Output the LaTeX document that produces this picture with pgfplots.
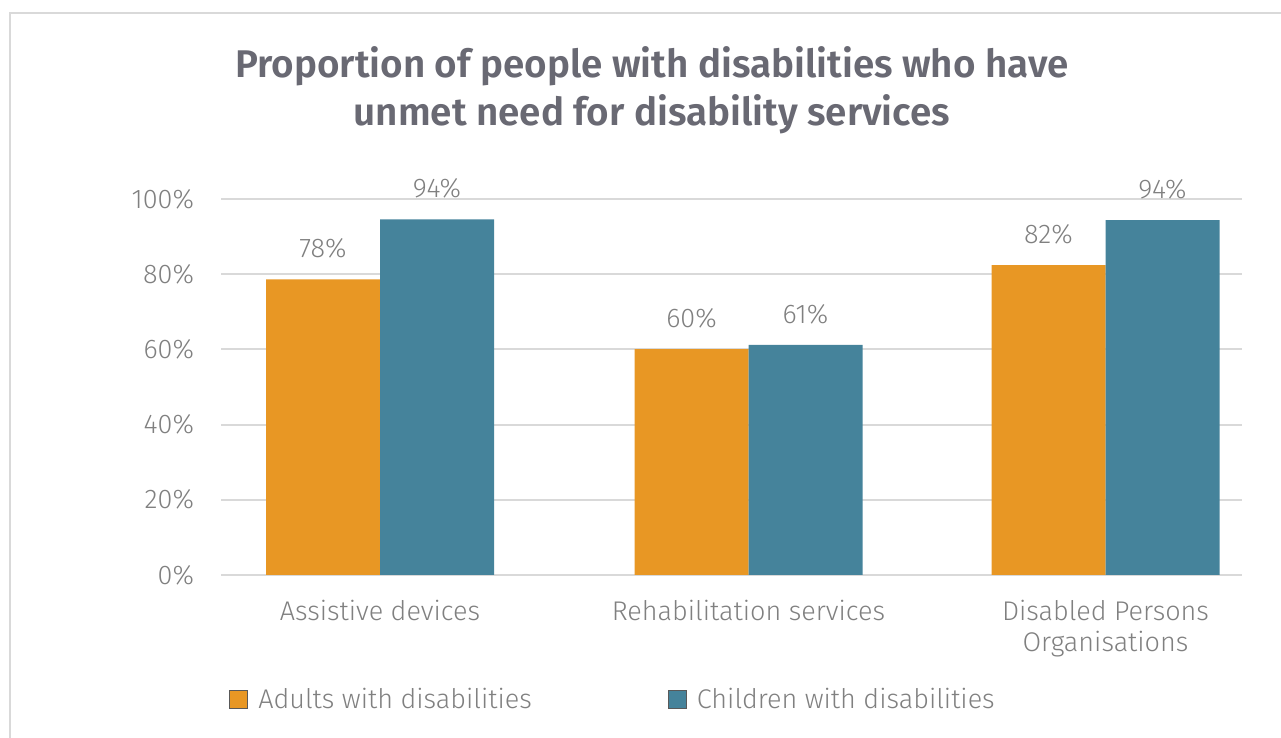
\documentclass[border=0pt]{standalone}
\usepackage{fontspec}
\setmainfont{Fira Sans Light}
\newfontfamily\titlefont{Fira Sans SemiBold}
\usepackage{pgfplots}
\pgfplotsset{compat=1.18}
\definecolor{orangebar}{RGB}{232,151,36}
\definecolor{tealbar}{RGB}{69,131,155}
\definecolor{gridc}{RGB}{217,217,217}
\definecolor{txt}{RGB}{128,128,128}
\definecolor{titlec}{RGB}{105,105,115}
\begin{document}
\begin{tikzpicture}
\useasboundingbox (0pt,0pt) rectangle (640.5pt,369pt);
\draw[gridc, line width=1pt] (5pt,0pt) -- (5pt,362.5pt) -- (640.5pt,362.5pt);
\node[anchor=base, font=\titlefont\fontsize{19.3}{23}\selectfont, text=titlec, inner sep=0pt] at (326pt,330pt) {Proportion of people with disabilities who have};
\node[anchor=base, font=\titlefont\fontsize{19.3}{23}\selectfont, text=titlec, inner sep=0pt] at (326pt,306pt) {unmet need for disability services};
\begin{axis}[
  at={(110.5pt,81.5pt)}, anchor=south west,
  width=510.5pt, height=188pt, scale only axis,
  xmin=221, xmax=1242, ymin=0, ymax=100,
  ybar=0pt, bar width=57pt,
  axis line style={draw=none},
  tick style={draw=none},
  ymajorgrids, major grid style={gridc, line width=1pt},
  ytick={0,20,...,100},
  yticklabel={\pgfmathprintnumber{\tick}\%},
  xtick={380,748.5,1105.5},
  xticklabels={Assistive devices, Rehabilitation services, {Disabled Persons\\Organisations}},
  /pgf/number format/assume math mode=true,
  ticklabel style={font=\fontsize{13.5}{15.5}\selectfont, text=txt},
  xticklabel style={align=center, yshift=-5pt},
  yticklabel style={xshift=-10pt},
  clip=false,
  nodes near coords,
  point meta=explicit symbolic,
  nodes near coords style={font=\fontsize{13.5}{15.5}\selectfont, text=txt, yshift=7pt},
  legend columns=2,
  legend style={draw=none, fill=none, at={(0.0078,-0.3324)}, anchor=west, inner sep=0pt,
    font=\fontsize{13.5}{15.5}\selectfont, text=txt,
    /tikz/every odd column/.append style={column sep=3pt},
    /tikz/every even column/.append style={column sep=66pt}},
  legend image code/.code={\draw[#1, draw=black!65, line width=0.5pt] (0pt,-4.5pt) rectangle (9pt,4.5pt);},
]
\addplot[fill=orangebar, draw=none] coordinates {(380,78.6) [78\%] (748.5,60.1) [60\%] (1105.5,82.4) [82\%]};
\addplot[fill=tealbar, draw=none] coordinates {(380,94.6) [94\%] (748.5,61.2) [61\%] (1105.5,94.4) [94\%]};
\legend{Adults with disabilities, Children with disabilities}
\end{axis}
\end{tikzpicture}
\end{document}
